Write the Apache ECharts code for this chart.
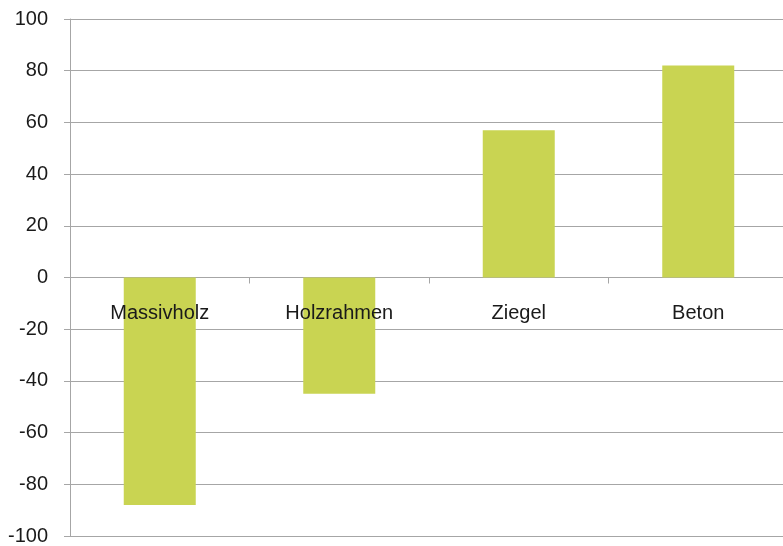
<!DOCTYPE html>
<html>
<head>
<meta charset="utf-8">
<script src="https://cdn.jsdelivr.net/npm/echarts@6/dist/echarts.min.js"></script>
<style>
html,body{margin:0;padding:0;background:#fff;}
#chart{width:783px;height:546px;}
</style>
</head>
<body>
<div id="chart"></div>
<script>
const categories = ['Massivholz', 'Holzrahmen', 'Ziegel', 'Beton'];
const values = [-88, -45, 57, 82];
const yMin = -100, yMax = 100, yStep = 20;

const gridTop = 19, gridBottom = 10, H = 546;
const plotH = H - gridTop - gridBottom;
const zeroOffset = -plotH * (0 - yMin) / (yMax - yMin);

const chart = echarts.init(document.getElementById('chart'), null, {renderer: 'canvas'});
const font = '"Liberation Sans", Arial, sans-serif';
const gridColor = '#a6a6a6';
chart.setOption({
  animation: false,
  backgroundColor: '#ffffff',
  grid: {left: 70, right: -5, top: gridTop, bottom: gridBottom, containLabel: false, outerBoundsMode: 'none'},
  xAxis: [{
    type: 'category',
    data: categories,
    axisLine: {onZero: true, lineStyle: {color: gridColor, width: 1}},
    axisTick: {show: true, inside: false, length: 6, lineStyle: {color: gridColor}},
    axisLabel: {show: false}
  }, {
    type: 'category',
    data: categories,
    position: 'bottom',
    offset: zeroOffset,
    z: 10,
    axisLine: {show: false, onZero: false},
    axisTick: {show: false},
    splitLine: {show: false},
    axisLabel: {fontFamily: font, fontSize: 20, color: '#1a1a1a', margin: 26}
  }],
  yAxis: {
    type: 'value',
    min: yMin, max: yMax, interval: yStep,
    axisLine: {show: true, lineStyle: {color: gridColor, width: 1}},
    axisTick: {show: true, length: 6, lineStyle: {color: gridColor}},
    splitLine: {show: true, lineStyle: {color: gridColor, width: 1}},
    axisLabel: {fontFamily: font, fontSize: 20, color: '#1a1a1a', margin: 22}
  },
  series: [{
    type: 'bar',
    data: values,
    barWidth: 72,
    z: 1,
    itemStyle: {color: '#c9d452'}
  }]
});
</script>
</body>
</html>
